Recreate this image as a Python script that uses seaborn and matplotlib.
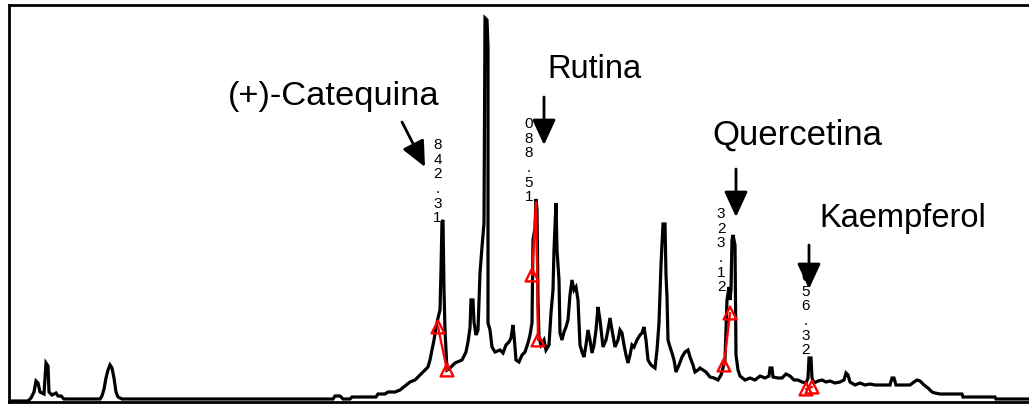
import matplotlib
matplotlib.use("Agg")
import matplotlib.pyplot as plt
import seaborn as sns
import pandas as pd
import numpy as np

# ---------------- data (x = retention position, y = pixel row) -------------
trace_x = [10, 28, 31, 34, 36, 38, 40, 44, 46, 48, 49, 52, 56, 58, 61, 64, 100, 102, 104, 106, 108, 110,
           112, 114, 116, 118, 122, 300, 333, 335, 340, 343, 350, 352, 376, 378, 385, 388, 395, 400, 405,
           410, 415, 420, 425, 428, 430, 432, 434, 436, 438, 440, 441, 442, 443, 444, 445, 447, 450, 455,
           462, 466, 468, 470, 471, 473, 474, 476, 478, 479, 480, 482, 484, 485, 487, 488, 488, 490, 492,
           495, 500, 503, 506, 509, 511, 513, 514, 516, 519, 522, 525, 528, 530, 532, 533, 535, 536, 537,
           538, 539, 541, 544, 546, 549, 551, 553, 554, 556, 557, 559, 560, 562, 564, 566, 568, 570, 572,
           574, 576, 578, 580, 582, 584, 586, 588, 590, 592, 594, 596, 598, 600, 603, 606, 608, 610, 612,
           615, 618, 620, 622, 624, 626, 628, 630, 632, 634, 637, 640, 642, 644, 646, 648, 651, 655, 657,
           659, 661, 663, 665, 666, 667, 668, 670, 672, 674, 676, 679, 682, 685, 688, 690, 693, 695, 698,
           700, 703, 706, 710, 714, 718, 721, 723, 725, 726, 727, 729, 730, 731, 732, 733, 735, 736, 738,
           740, 745, 750, 755, 760, 765, 769, 770, 772, 773, 778, 782, 786, 790, 794, 798, 802, 806, 808,
           809, 811, 812, 814, 818, 822, 826, 830, 835, 840, 844, 846, 848, 850, 855, 860, 865, 870, 875,
           880, 890, 892, 894, 896, 905, 910, 914, 917, 920, 924, 928, 932, 935, 940, 962, 963, 995, 996,
           1032]
trace_row = [401, 401, 398, 392, 381, 383, 392, 394, 363, 366, 392, 395, 393, 396, 396, 399, 399, 396, 389,
             378, 370, 365, 368, 378, 392, 397, 399, 399, 399, 396, 396, 399, 399, 397, 397, 394, 394, 392,
             392, 390, 386, 382, 380, 375, 370, 367, 360, 350, 340, 328, 318, 310, 270, 222, 220, 290, 330,
             370, 368, 363, 360, 352, 342, 328, 300, 300, 322, 335, 330, 300, 273, 247, 223, 18, 20, 47,
             323, 330, 347, 352, 350, 353, 345, 342, 338, 325, 335, 360, 362, 355, 352, 343, 335, 323, 240,
             228, 199, 210, 300, 338, 345, 340, 350, 345, 313, 290, 250, 203, 250, 280, 333, 340, 332, 327,
             320, 295, 280, 290, 287, 300, 345, 352, 357, 345, 330, 340, 353, 345, 330, 307, 320, 347, 340,
             330, 318, 330, 347, 340, 330, 333, 345, 355, 363, 355, 345, 347, 340, 335, 333, 327, 340, 360,
             365, 368, 350, 323, 265, 224, 224, 275, 297, 340, 347, 353, 360, 372, 365, 357, 352, 350, 357,
             365, 372, 370, 368, 370, 372, 377, 378, 380, 375, 368, 360, 330, 300, 287, 300, 290, 240, 235,
             245, 355, 370, 376, 380, 378, 380, 376, 378, 376, 368, 368, 377, 378, 378, 374, 376, 380, 380,
             382, 383, 378, 358, 358, 378, 383, 381, 380, 382, 381, 383, 382, 380, 373, 375, 382, 385, 383,
             385, 384, 385, 385, 385, 378, 378, 385, 385, 385, 382, 380, 381, 385, 388, 392, 393, 394, 394,
             397, 397, 399, 399]

# red integration marks (peak id, x, pixel row)
red_peak = ["cat", "cat", "rut", "rut", "rut", "rut", "rut", "que", "que", "kae", "kae"]
red_x = [438, 447, 532, 534, 536, 537, 538, 724, 730, 806, 812]
red_row = [327, 370, 275, 240, 202, 260, 340, 365, 313, 389, 387]
tri_x = [438, 447, 532, 538, 724, 730, 806, 812]
tri_row = [327, 370, 275, 340, 365, 313, 389, 387]

compounds = ["(+)-Catequina", "Rutina", "Quercetina", "Kaempferol"]
compound_pos = [(334, 97), (594, 69), (797, 135), (903, 219)]
compound_size = [24.8, 23.5, 25.0, 23.5]
retention_labels = ["842.31", "088.51", "323.12", "056.32"]
label_pos = [(437.5, 138), (529, 117), (721, 207), (806, 270)]
arrow_from = [(402, 122), (544, 97), (736, 169), (809, 245)]
arrow_to = [(425, 167), (544, 145), (736, 217), (809, 289)]

# ---------------- drawing -------------
BOTTOM = 402
def val(row):
    return BOTTOM - np.asarray(row, dtype=float)

sns.set_theme(style="white")
plt.rcParams["font.family"] = ["Liberation Sans", "DejaVu Sans"]

W, H = 1029, 405
fig = plt.figure(figsize=(W / 100, H / 100), dpi=100)
ax = fig.add_axes([9 / W, (H - BOTTOM) / H, (1034 - 9) / W, (BOTTOM - 5) / H])

df = pd.DataFrame({"t": trace_x, "a": val(trace_row)})
sns.lineplot(data=df, x="t", y="a", sort=False, estimator=None, color="black", lw=2.3, ax=ax,
             solid_joinstyle="miter")

rdf = pd.DataFrame({"peak": red_peak, "t": red_x, "a": val(red_row)})
sns.lineplot(data=rdf, x="t", y="a", units="peak", sort=False, estimator=None, color="red", lw=1.7, ax=ax)
tdf = pd.DataFrame({"t": tri_x, "a": val(tri_row)})
sns.scatterplot(data=tdf, x="t", y="a", marker="^", s=85, facecolors="none", edgecolor="red",
                linewidth=1.7, ax=ax, zorder=5)

for lab, (x, y) in zip(retention_labels, label_pos):
    ax.text(x, val(y), "\n".join(lab), ha="center", va="top", fontsize=11, linespacing=1.06,
            color="black", zorder=3)

for name, (x, y), fs in zip(compounds, compound_pos, compound_size):
    ax.text(x, val(y), name, ha="center", va="center", fontsize=fs, color="black")

for (x0, y0), (x1, y1) in zip(arrow_from, arrow_to):
    ax.annotate("", xy=(x1, val(y1)), xytext=(x0, val(y0)),
                arrowprops=dict(arrowstyle="-|>,head_length=0.65,head_width=0.3", mutation_scale=24,
                                lw=2.0, color="black", fc="black", shrinkA=0, shrinkB=0), zorder=6)

ax.set_xlim(9, 1034)
ax.set_ylim(0, BOTTOM - 5)
ax.set_xticks([])
ax.set_yticks([])
ax.set_xlabel("")
ax.set_ylabel("")
for side in ["top", "left", "bottom", "right"]:
    ax.spines[side].set_visible(True)
    ax.spines[side].set_color("black")
    ax.spines[side].set_linewidth(2.0)

fig.savefig("out.png", dpi=100)
